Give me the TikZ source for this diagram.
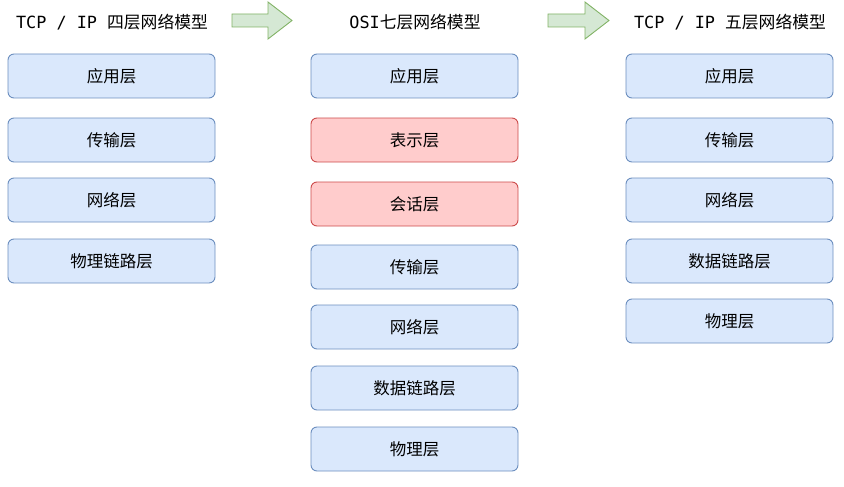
\documentclass[tikz,border=0pt]{standalone}
\usepackage{fontspec}
\setmonofont{DejaVu Sans Mono}
\newfontfamily\cjk{Noto Sans CJK SC}
\usepackage{xcolor}
\usepackage{tikz}
\usetikzlibrary{positioning}

\definecolor{blueFill}{HTML}{DAE8FC}
\definecolor{blueLine}{HTML}{6C8EBF}
\definecolor{redFill}{HTML}{FFCCCC}
\definecolor{redLine}{HTML}{CC4B4B}
\definecolor{greenFill}{HTML}{D5E8D4}
\definecolor{greenLine}{HTML}{82B366}

\begin{document}
\begin{tikzpicture}[
  x=1pt, y=-1pt,
  layer/.style={draw=blueLine, fill=blueFill, rounded corners=6pt, line width=0.9pt,
                minimum width=207pt, minimum height=44pt, inner sep=0pt,
                font=\cjk\fontsize{16.5}{19}\selectfont},
  extra/.style={layer, draw=redLine, fill=redFill},
  title/.style={font=\ttfamily\fontsize{16.8}{20}\selectfont, inner sep=0pt},
  bigarrow/.style={draw=greenLine, fill=greenFill, line width=0.9pt, line join=miter}
]
\useasboundingbox (0,0) rectangle (844,487);

% Titles
\node[title] (t4)   at (112, 22) {TCP / IP {\cjk 四层网络模型}};
\node[title] (tosi) at (415, 22) {OSI{\cjk 七层网络模型}};
\node[title] (t5)   at (730, 22) {TCP / IP {\cjk 五层网络模型}};

% Arrows between the models
\draw[bigarrow] (232,14) -- (268,14) -- (268,2) -- (292,20.5) -- (268,39) -- (268,27) -- (232,27) -- cycle;
\draw[bigarrow] (548,14) -- (585,14) -- (585,2) -- (609,20.5) -- (585,39) -- (585,27) -- (548,27) -- cycle;

% TCP/IP four-layer model
\node[layer] (a1) at (111.5, 76)  {应用层};
\node[layer] (a2) at (111.5, 140) {传输层};
\node[layer] (a3) at (111.5, 200) {网络层};
\node[layer] (a4) at (111.5, 261) {物理链路层};

% OSI seven-layer model
\node[layer] (b1) at (414.5, 76)  {应用层};
\node[extra] (b2) at (414.5, 140) {表示层};
\node[extra] (b3) at (414.5, 204) {会话层};
\node[layer] (b4) at (414.5, 267) {传输层};
\node[layer] (b5) at (414.5, 327) {网络层};
\node[layer] (b6) at (414.5, 388) {数据链路层};
\node[layer] (b7) at (414.5, 449) {物理层};

% TCP/IP five-layer model
\node[layer] (c1) at (729.5, 76)  {应用层};
\node[layer] (c2) at (729.5, 140) {传输层};
\node[layer] (c3) at (729.5, 200) {网络层};
\node[layer] (c4) at (729.5, 261) {数据链路层};
\node[layer] (c5) at (729.5, 321) {物理层};

\end{tikzpicture}
\end{document}
